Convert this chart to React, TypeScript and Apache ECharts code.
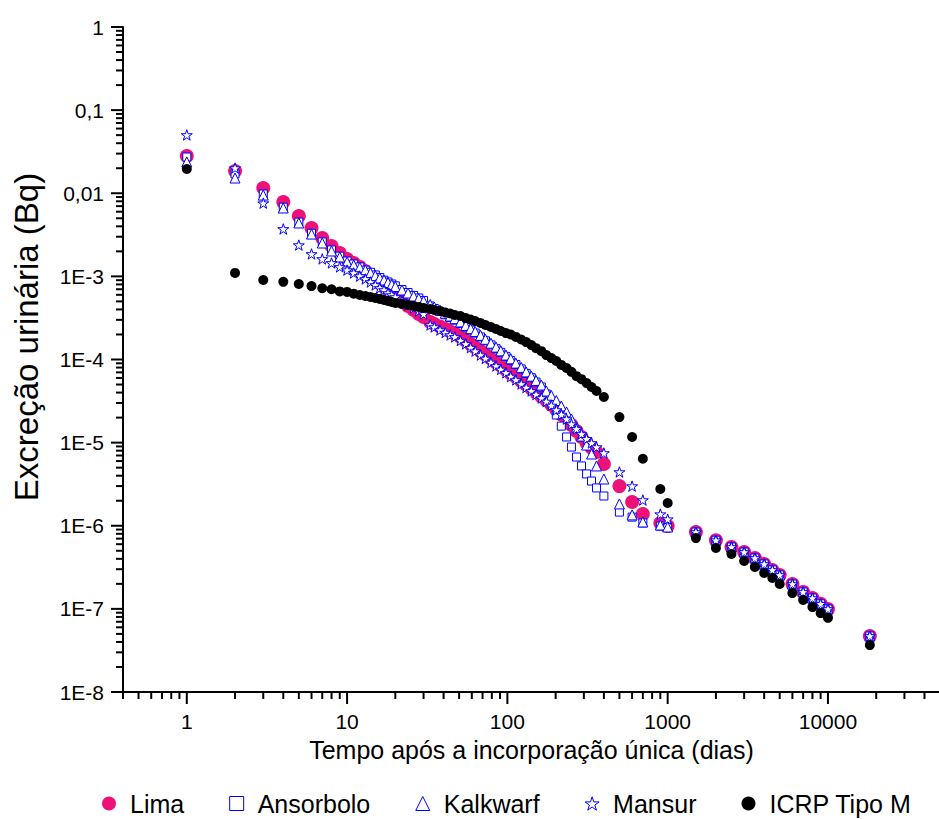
import React, { useEffect, useRef } from "react";
import * as echarts from "echarts";

// Time after single intake (days)
const days = [
  1, 2, 3, 4, 5, 6, 7, 8, 9,
  10, 11, 12, 13, 14, 15, 16, 17, 18, 19, 20, 22, 24, 26, 28, 30,
  33, 35, 38, 41, 44, 47, 51, 55, 59, 63, 68, 73, 79, 85, 91, 98, 105, 113, 122, 131, 141, 151, 163, 175, 188, 202, 217, 234, 251, 270, 290, 312, 335, 360,
  400, 500, 600, 700, 900, 1000, 1500, 2000, 2500, 3000, 3500, 4000, 4500, 5000, 6000, 7000, 8000, 9000, 10000, 18250,
];

const lima = [
  0.0281, 0.0185, 0.01157, 7.85e-3, 5.32e-3, 3.82e-3, 2.9e-3, 2.32e-3, 1.91e-3,
  1.62e-3, 1.45e-3, 1.3e-3, 1.16e-3, 1.04e-3, 9.3e-4, 8.3e-4, 7.45e-4, 6.86e-4, 6.14e-4, 5.65e-4, 4.92e-4, 4.41e-4, 3.94e-4, 3.53e-4, 3.25e-4,
  2.83e-4, 2.67e-4, 2.49e-4, 2.32e-4, 2.17e-4, 2.05e-4, 1.87e-4, 1.68e-4, 1.53e-4, 1.39e-4, 1.26e-4, 1.14e-4, 1.02e-4, 9.2e-5, 8.4e-5, 7.5e-5, 6.8e-5, 6.15e-5, 5.5e-5, 4.97e-5, 4.47e-5, 4.03e-5, 3.6e-5, 3.23e-5, 2.86e-5, 2.49e-5, 2.18e-5, 1.88e-5, 1.63e-5, 1.38e-5, 1.17e-5, 9.9e-6, 8.7e-6, 7.7e-6,
  5.53e-6, 3.0e-6, 1.93e-6, 1.38e-6, 1.08e-6, 9.9e-7, 8.4e-7, 6.7e-7, 5.55e-7, 4.83e-7, 4.09e-7, 3.47e-7, 2.94e-7, 2.56e-7, 1.99e-7, 1.6e-7, 1.35e-7, 1.15e-7, 9.97e-8, 4.72e-8,
];

const ansorbolo = [
  0.0273, 0.0171, 9.8e-3, 6.8e-3, 4.5e-3, 3.3e-3, 2.6e-3, 2.08e-3, 1.75e-3,
  1.53e-3, 1.41e-3, 1.3e-3, 1.19e-3, 1.12e-3, 1.04e-3, 9.7e-4, 9.0e-4, 8.55e-4, 8.1e-4, 7.7e-4, 6.95e-4, 6.4e-4, 5.9e-4, 5.5e-4, 5.13e-4,
  4.41e-4, 4.11e-4, 3.78e-4, 3.45e-4, 3.19e-4, 2.97e-4, 2.71e-4, 2.46e-4, 2.26e-4, 2.08e-4, 1.87e-4, 1.68e-4, 1.5e-4, 1.35e-4, 1.22e-4, 1.09e-4, 9.75e-5, 8.7e-5, 7.7e-5, 6.8e-5, 6.04e-5, 5.36e-5, 4.67e-5, 3.85e-5, 2.92e-5, 2.15e-5, 1.58e-5, 1.17e-5, 8.85e-6, 6.71e-6, 5.24e-6, 4.2e-6, 3.45e-6, 2.85e-6,
  2.28e-6, 1.46e-6, 1.27e-6, 1.08e-6, 9.9e-7, 9.66e-7, 8.4e-7, 6.7e-7, 5.55e-7, 4.83e-7, 4.09e-7, 3.47e-7, 2.94e-7, 2.56e-7, 1.99e-7, 1.6e-7, 1.35e-7, 1.15e-7, 9.97e-8, 4.72e-8,
];

const kalkwarf = [
  0.0238, 0.01525, 9.5e-3, 6.65e-3, 4.39e-3, 3.23e-3, 2.52e-3, 2.02e-3, 1.71e-3,
  1.49e-3, 1.37e-3, 1.28e-3, 1.19e-3, 1.1e-3, 1.02e-3, 9.55e-4, 9.04e-4, 8.43e-4, 7.98e-4, 7.55e-4, 6.86e-4, 6.31e-4, 5.81e-4, 5.42e-4, 5.06e-4,
  4.59e-4, 4.28e-4, 3.92e-4, 3.6e-4, 3.33e-4, 3.1e-4, 2.83e-4, 2.57e-4, 2.35e-4, 2.17e-4, 1.95e-4, 1.75e-4, 1.57e-4, 1.41e-4, 1.27e-4, 1.13e-4, 1.02e-4, 9.05e-5, 8.04e-5, 7.1e-5, 6.3e-5, 5.6e-5, 4.93e-5, 4.18e-5, 3.69e-5, 3.21e-5, 2.76e-5, 2.34e-5, 1.92e-5, 1.54e-5, 1.2e-5, 9.35e-6, 7.3e-6, 5.24e-6,
  3.65e-6, 1.83e-6, 1.35e-6, 1.11e-6, 1.02e-6, 9.66e-7, 8.4e-7, 6.7e-7, 5.55e-7, 4.83e-7, 4.09e-7, 3.47e-7, 2.94e-7, 2.56e-7, 1.99e-7, 1.6e-7, 1.35e-7, 1.15e-7, 9.97e-8, 4.72e-8,
];

const mansur = [
  0.0502, 0.0201, 7.6e-3, 3.72e-3, 2.38e-3, 1.86e-3, 1.62e-3, 1.45e-3, 1.3e-3,
  1.19e-3, 1.1e-3, 1.01e-3, 9.3e-4, 8.55e-4, 7.87e-4, 7.25e-4, 6.86e-4, 6.31e-4, 5.97e-4, 5.65e-4, 5.06e-4, 4.53e-4, 4.17e-4, 3.83e-4, 3.52e-4,
  2.6e-4, 2.46e-4, 2.26e-4, 2.11e-4, 1.97e-4, 1.87e-4, 1.69e-4, 1.54e-4, 1.39e-4, 1.26e-4, 1.13e-4, 1.03e-4, 9.2e-5, 8.36e-5, 7.6e-5, 6.9e-5, 6.24e-5, 5.67e-5, 5.07e-5, 4.6e-5, 4.18e-5, 3.79e-5, 3.44e-5, 3.13e-5, 2.8e-5, 2.47e-5, 2.18e-5, 1.92e-5, 1.67e-5, 1.46e-5, 1.27e-5, 1.11e-5, 9.9e-6, 8.85e-6,
  7.5e-6, 4.43e-6, 3.0e-6, 2.04e-6, 1.38e-6, 1.2e-6, 8.4e-7, 6.7e-7, 5.55e-7, 4.83e-7, 4.09e-7, 3.47e-7, 2.94e-7, 2.56e-7, 1.99e-7, 1.6e-7, 1.35e-7, 1.15e-7, 9.97e-8, 4.72e-8,
];

const icrpTipoM = [
  0.0196, 1.1e-3, 9.05e-4, 8.6e-4, 8.1e-4, 7.65e-4, 7.2e-4, 7.0e-4, 6.6e-4,
  6.5e-4, 6.2e-4, 5.97e-4, 5.8e-4, 5.65e-4, 5.5e-4, 5.35e-4, 5.2e-4, 5.06e-4, 4.92e-4, 4.79e-4, 4.66e-4, 4.53e-4, 4.41e-4, 4.29e-4, 4.17e-4,
  4.05e-4, 3.94e-4, 3.84e-4, 3.68e-4, 3.58e-4, 3.43e-4, 3.34e-4, 3.15e-4, 3.03e-4, 2.9e-4, 2.75e-4, 2.6e-4, 2.46e-4, 2.33e-4, 2.2e-4, 2.08e-4, 2.0e-4, 1.87e-4, 1.74e-4, 1.62e-4, 1.49e-4, 1.37e-4, 1.26e-4, 1.13e-4, 1.04e-4, 9.6e-5, 8.6e-5, 7.9e-5, 7.1e-5, 6.3e-5, 5.8e-5, 5.2e-5, 4.67e-5, 4.18e-5,
  3.54e-5, 2.03e-5, 1.17e-5, 6.4e-6, 2.77e-6, 1.88e-6, 7.1e-7, 5.4e-7, 4.57e-7, 3.77e-7, 3.19e-7, 2.7e-7, 2.35e-7, 1.99e-7, 1.55e-7, 1.28e-7, 1.05e-7, 8.9e-8, 7.8e-8, 3.67e-8,
];

const seriesNames = ["Lima", "Ansorbolo", "Kalkwarf", "Mansur", "ICRP Tipo M"];
const xTickLabels = ["1", "10", "100", "1000", "10000"];
const yTickLabels = ["1E-8", "1E-7", "1E-6", "1E-5", "1E-4", "1E-3", "0,01", "0,1", "1"];
const xMajorTicks = [1, 10, 100, 1000, 10000];
const yMajorTicks = [1e-8, 1e-7, 1e-6, 1e-5, 1e-4, 1e-3, 0.01, 0.1, 1];
const minorMultipliers = [2, 3, 4, 5, 6, 7, 8, 9];

const X_MIN = 0.4;
const X_MAX = 50000;
const Y_MIN = 1e-8;
const Y_MAX = 1;

const FONT = "'Liberation Sans', Arial, Helvetica, sans-serif";
const PINK = "#EE1177";
const BLUE = "#0000FF";
const STAR =
  "path://M50,2 L61.8,37.6 L99,37.6 L69,59.6 L80.4,95.4 L50,73.4 L19.6,95.4 L31,59.6 L1,37.6 L38.2,37.6 Z";

const pairs = (vals: number[]) => days.map((d, i) => [d, vals[i]]);

function buildTicks() {
  const out: number[][] = [];
  xMajorTicks.forEach((v) => out.push([v, Y_MIN, 0]));
  [0.1, 1, 10, 100, 1000, 10000].forEach((dec) =>
    minorMultipliers.forEach((m) => {
      const v = dec * m;
      if (v >= X_MIN - 1e-9 && v <= X_MAX) out.push([v, Y_MIN, 1]);
    })
  );
  yMajorTicks.forEach((v) => out.push([X_MIN, v, 2]));
  yMajorTicks.slice(0, 8).forEach((dec) =>
    minorMultipliers.forEach((m) => out.push([X_MIN, dec * m, 3]))
  );
  return out;
}

export default function App() {
  const ref = useRef<HTMLDivElement>(null);

  useEffect(() => {
    if (!ref.current) return;
    const chart = echarts.init(ref.current, undefined, { renderer: "svg" });

    const hollow = { color: "#ffffff", borderColor: BLUE, borderWidth: 1, opacity: 1 };
    const pinkStyle = { color: PINK, opacity: 1 };
    const blackStyle = { color: "#000000", opacity: 1 };

    const option: any = {
      animation: false,
      backgroundColor: "#ffffff",
      grid: { left: 123, right: 0, top: 27, bottom: 127, containLabel: false },
      xAxis: {
        type: "log",
        logBase: 10,
        min: X_MIN,
        max: X_MAX,
        splitNumber: 5,
        axisLine: { show: true, onZero: false, lineStyle: { color: "#000", width: 2 } },
        axisTick: { show: false },
        splitLine: { show: false },
        axisLabel: {
          color: "#000",
          fontSize: 21,
          fontFamily: FONT,
          margin: 19,
          formatter: (v: number) => {
            const l = Math.log10(v);
            const e = Math.round(l);
            if (Math.abs(l - e) > 1e-6 || e < 0 || e > 4) return "";
            return xTickLabels[e];
          },
        },
        name: "Tempo após a incorporação única (dias)",
        nameLocation: "middle",
        nameGap: 45,
        nameTextStyle: { color: "#000", fontSize: 25, fontFamily: FONT },
      },
      yAxis: {
        type: "log",
        logBase: 10,
        min: Y_MIN,
        max: Y_MAX,
        splitNumber: 8,
        axisLine: { show: true, onZero: false, lineStyle: { color: "#000", width: 2 } },
        axisTick: { show: false },
        splitLine: { show: false },
        axisLabel: {
          color: "#000",
          fontSize: 21,
          fontFamily: FONT,
          margin: 19,
          formatter: (v: number) => {
            const l = Math.log10(v);
            const e = Math.round(l);
            if (Math.abs(l - e) > 1e-6 || e < -8 || e > 0) return "";
            return yTickLabels[e + 8];
          },
        },
      },
      legend: {
        top: 786,
        left: 97,
        itemWidth: 14,
        itemHeight: 14,
        itemGap: 45,
        selectedMode: false,
        textStyle: { color: "#000", fontSize: 25, fontFamily: FONT, padding: [0, 0, 0, 9] },
        data: [
          { name: "Lima", icon: "circle", itemStyle: pinkStyle },
          { name: "Ansorbolo", icon: "rect", itemStyle: hollow },
          { name: "Kalkwarf", icon: "triangle", itemStyle: hollow },
          { name: "Mansur", icon: STAR, itemStyle: hollow },
          { name: "ICRP Tipo M", icon: "circle", itemStyle: blackStyle },
        ],
      },
      graphic: [
        {
          type: "text",
          x: 26,
          y: 337,
          rotation: Math.PI / 2,
          style: {
            text: "Excreção urinária (Bq)",
            fontSize: 33,
            fontFamily: FONT,
            fill: "#000",
            align: "center",
            verticalAlign: "middle",
          },
        },
      ],
      series: [
        {
          name: "axisTicks",
          type: "custom",
          silent: true,
          z: 5,
          clip: false,
          data: buildTicks(),
          renderItem: (_p: any, api: any) => {
            const kind = api.value(2);
            const pt = api.coord([api.value(0), api.value(1)]);
            const len = kind === 0 || kind === 2 ? 12 : 7;
            const shape =
              kind < 2
                ? { x1: pt[0], y1: pt[1], x2: pt[0], y2: pt[1] + len }
                : { x1: pt[0] - len, y1: pt[1], x2: pt[0], y2: pt[1] };
            return { type: "line", shape, style: { stroke: "#000", lineWidth: 2 } };
          },
        },
        {
          name: seriesNames[0],
          type: "scatter",
          data: pairs(lima),
          symbol: "circle",
          symbolSize: 14,
          itemStyle: pinkStyle,
          emphasis: { disabled: true },
        },
        {
          name: seriesNames[1],
          type: "scatter",
          data: pairs(ansorbolo),
          symbol: "rect",
          symbolSize: 8,
          itemStyle: hollow,
          emphasis: { disabled: true },
        },
        {
          name: seriesNames[2],
          type: "scatter",
          data: pairs(kalkwarf),
          symbol: "triangle",
          symbolSize: 10,
          itemStyle: hollow,
          emphasis: { disabled: true },
        },
        {
          name: seriesNames[3],
          type: "scatter",
          data: pairs(mansur),
          symbol: STAR,
          symbolKeepAspect: true,
          symbolSize: 11,
          itemStyle: hollow,
          emphasis: { disabled: true },
        },
        {
          name: seriesNames[4],
          type: "scatter",
          data: pairs(icrpTipoM),
          symbol: "circle",
          symbolSize: 10,
          itemStyle: blackStyle,
          emphasis: { disabled: true },
        },
      ],
    };

    chart.setOption(option);
    return () => chart.dispose();
  }, []);

  return (
    <div
      style={{
        position: "absolute",
        left: 0,
        top: 0,
        width: 939,
        height: 819,
        overflow: "hidden",
        background: "#ffffff",
      }}
    >
      <div ref={ref} style={{ width: 943, height: 819 }} />
    </div>
  );
}
